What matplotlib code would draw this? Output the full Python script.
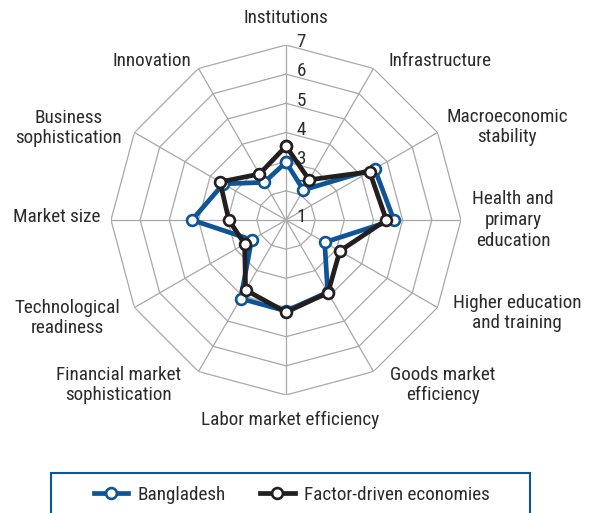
import numpy as np
import matplotlib
matplotlib.use("Agg")
import matplotlib.pyplot as plt
from matplotlib.patches import Rectangle

plt.rcParams['font.family'] = ['Roboto Condensed', 'DejaVu Sans']

categories = ["Institutions", "Infrastructure", "Macroeconomic\nstability",
              "Health and\nprimary\neducation", "Higher education\nand training",
              "Goods market\nefficiency", "Labor market efficiency",
              "Financial market\nsophistication", "Technological\nreadiness",
              "Market size", "Business\nsophistication", "Innovation"]
bangladesh = [2.98, 2.19, 4.51, 4.70, 2.53, 3.86, 4.12, 4.11, 2.36, 4.22, 3.48, 2.49]
factor_driven = [3.53, 2.59, 4.31, 4.44, 3.13, 3.88, 4.16, 3.77, 2.64, 2.96, 3.61, 2.82]
r_ticks = [1, 2, 3, 4, 5, 6, 7]

# label placement (theta in degrees clockwise from north, radius in data units)
label_pos = [(0, 7.93), (44.1, 8.59), (67.2, 9.22), (90, 8.78), (111.9, 9.54),
             (136.4, 8.81), (178.9, 7.86), (225.5, 9.07), (245.9, 9.22),
             (270.75, 8.85), (292.9, 9.11), (319.9, 8.13)]

BLUE = '#0d5597'
BLACK = '#231f20'
GRID = '#a8a8a8'
TEXT = '#2b2b2b'
FS = 13.8

W, H = 590, 513
fig = plt.figure(figsize=(W / 100, H / 100), dpi=100)
cx, cy, R = 286, 220, 175
ax = fig.add_axes([(cx - R) / W, (H - cy - R) / H, 2 * R / W, 2 * R / H], polar=True)
ax.set_theta_zero_location('N')
ax.set_theta_direction(-1)
ax.set_ylim(1, 7)
ax.grid(False)
ax.spines['polar'].set_visible(False)
ax.set_xticks([])
ax.set_yticks([])
ax.patch.set_alpha(0)

n = len(categories)
theta = np.linspace(0, 2 * np.pi, n, endpoint=False)
theta_c = np.append(theta, theta[0])

for v in r_ticks[1:]:
    ax.plot(theta_c, [v] * (n + 1), color=GRID, lw=0.9, zorder=1)
for t in theta:
    ax.plot([t, t], [1, 7], color=GRID, lw=0.9, zorder=1)

for v in r_ticks:
    ax.annotate(str(v), xy=(0, v), xytext=(11, 2), textcoords='offset points',
                ha='center', va='center', fontsize=FS, color=TEXT,
                annotation_clip=False, zorder=2)

b = np.append(bangladesh, bangladesh[0])
f = np.append(factor_driven, factor_driven[0])
lb, = ax.plot(theta_c, b, color=BLUE, lw=3.4, marker='o', markersize=7.8,
              markerfacecolor='white', markeredgecolor=BLUE, markeredgewidth=1.9,
              zorder=3, clip_on=False, label='Bangladesh')
lf, = ax.plot(theta_c, f, color=BLACK, lw=3.4, marker='o', markersize=7.8,
              markerfacecolor='white', markeredgecolor=BLACK, markeredgewidth=1.9,
              zorder=4, clip_on=False, label='Factor-driven economies')

for lab, (td, rr) in zip(categories, label_pos):
    ax.text(np.deg2rad(td), rr, lab, ha='center', va='center', fontsize=FS,
            color=TEXT, linespacing=1.18, clip_on=False)

# legend box
x0, x1, ytop = 51, 530, 473
fig.patches.append(Rectangle((x0 / W, -0.05), (x1 - x0) / W, (H - ytop) / H + 0.05,
                             transform=fig.transFigure, fill=False,
                             edgecolor=BLUE, lw=1.5, clip_on=False))
fig.legend(handles=[lb, lf], loc='center', bbox_to_anchor=(291.5 / W, 1 - 495 / H),
           ncol=2, frameon=False, fontsize=FS, handlelength=1.8,
           handletextpad=0.47, columnspacing=1.8, labelcolor=TEXT)

fig.savefig('out.png', dpi=100)
